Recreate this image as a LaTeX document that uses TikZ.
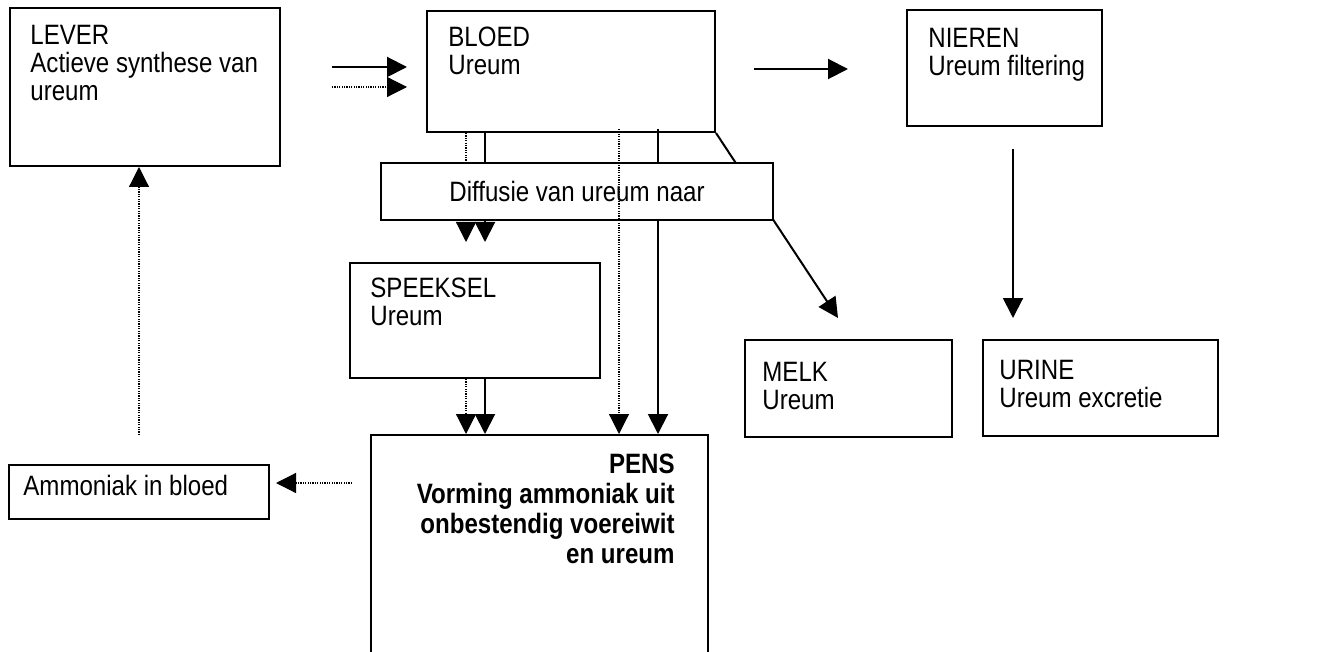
\documentclass[tikz,border=0pt]{standalone}
\usepackage{fontspec}
\setmainfont{Liberation Sans}[FakeStretch=0.86]
\usetikzlibrary{arrows.meta,positioning,calc}

\begin{document}
\begin{tikzpicture}[
  x=0.5pt, y=-0.5pt,
  font=\fontsize{14}{14}\selectfont,
  box/.style={draw, line width=1pt, anchor=north west, inner sep=0pt},
  txt/.style={anchor=north west, inner sep=0pt, align=left},
  flow/.style={-{Triangle[length=10pt, width=10pt]}, line width=1pt},
  dotflow/.style={-{Triangle[length=10pt, width=10pt]}, line width=0.6pt, dash pattern=on 0.6pt off 0.6pt},
]
  \useasboundingbox (0,0) rectangle (1332,652);

  % Organs
  \node[box, minimum width=135pt, minimum height=79pt] (lever) at (9,7) {};
  \node[box, minimum width=144pt, minimum height=60.5pt] (bloed) at (426,10) {};
  \node[box, minimum width=97.5pt, minimum height=58pt] (nieren) at (906,9) {};
  \node[box, minimum width=125pt, minimum height=57.5pt] (speeksel) at (349,262) {};
  \node[box, minimum width=103.5pt, minimum height=48.5pt] (melk) at (744,339) {};
  \node[box, minimum width=117.5pt, minimum height=48pt] (urine) at (982,339) {};
  \node[box, minimum width=130pt, minimum height=27pt] (ammoniak) at (8,464) {};
  \node[box, minimum width=168.5pt, minimum height=113pt] (pens) at (370,434) {};

  % Texts
  \node[txt] (leverTxt) at ([shift={(21,18)}]lever.north west) {LEVER\\Actieve synthese van\\ureum};
  \node[txt] (bloedTxt) at ([shift={(22,17)}]bloed.north west) {BLOED\\Ureum};
  \node[txt] (nierenTxt) at ([shift={(22,19)}]nieren.north west) {NIEREN\\Ureum filtering};
  \node[txt] (speekselTxt) at ([shift={(21,16)}]speeksel.north west) {SPEEKSEL\\Ureum};
  \node[txt] (melkTxt) at ([shift={(18,23)}]melk.north west) {MELK\\Ureum};
  \node[txt] (urineTxt) at ([shift={(17,21)}]urine.north west) {URINE\\Ureum excretie};
  \node[txt] (ammoniakTxt) at ([shift={(15,11)}]ammoniak.north west) {Ammoniak in bloed};
  \node[txt, anchor=north east, align=right, font=\fontsize{14}{15}\selectfont\bfseries] (pensTxt)
    at ([shift={(-34,20)}]pens.north east) {PENS\\Vorming ammoniak uit\\onbestendig voereiwit\\en ureum};

  % Lever to bloed
  \draw[flow, shorten <=25.5pt, shorten >=9.5pt] ([shift={(0,60)}]lever.north east) -- ([shift={(0,57)}]bloed.north west);
  \draw[dotflow, shorten <=25.5pt, shorten >=9.5pt] ([shift={(0,80)}]lever.north east) -- ([shift={(0,77)}]bloed.north west);

  % Bloed to nieren, nieren to urine
  \draw[flow, shorten <=19pt, shorten >=29pt] ([shift={(0,59)}]bloed.north east) -- ([shift={(0,60)}]nieren.north west);
  \draw[flow, shorten <=11pt, shorten >=10.5pt] ([xshift=4.25pt]nieren.south) -- ([xshift=4.25pt]nieren.south |- urine.north);

  % Bloed to melk and speeksel (behind the diffusion box)
  \draw[flow] (bloed.south east) -- ([shift={(94,-21)}]melk.north west);
  \draw[flow, shorten >=10pt] ([xshift=5pt]speeksel.north |- bloed.south) -- ([xshift=5pt]speeksel.north);
  \draw[dotflow, shorten >=10pt] ([xshift=-4.5pt]speeksel.north |- bloed.south) -- ([xshift=-4.5pt]speeksel.north);
  \draw[flow, shorten <=-2pt] ([xshift=59.25pt]pens.north |- bloed.south) -- ([xshift=59.25pt]pens.north);

  \node[box, fill=white, minimum width=196pt, minimum height=28.5pt] (diffusie) at (380,162) {Diffusie van ureum naar};

  \draw[dotflow, shorten <=-2pt] ([xshift=39.75pt]pens.north |- bloed.south) -- ([xshift=39.75pt]pens.north);

  % Speeksel to pens
  \draw[flow] ([xshift=5pt]speeksel.south) -- ([xshift=5pt]speeksel.south |- pens.north);
  \draw[dotflow] ([xshift=-4.5pt]speeksel.south) -- ([xshift=-4.5pt]speeksel.south |- pens.north);

  % Ammonia back to the liver
  \draw[dotflow, shorten <=9pt, shorten >=3pt] ([shift={(0,49)}]pens.north west) -- ([shift={(0,19)}]ammoniak.north east);
  \draw[dotflow, shorten <=14.5pt] (ammoniak.north) -- (ammoniak.north |- lever.south);
\end{tikzpicture}
\end{document}
